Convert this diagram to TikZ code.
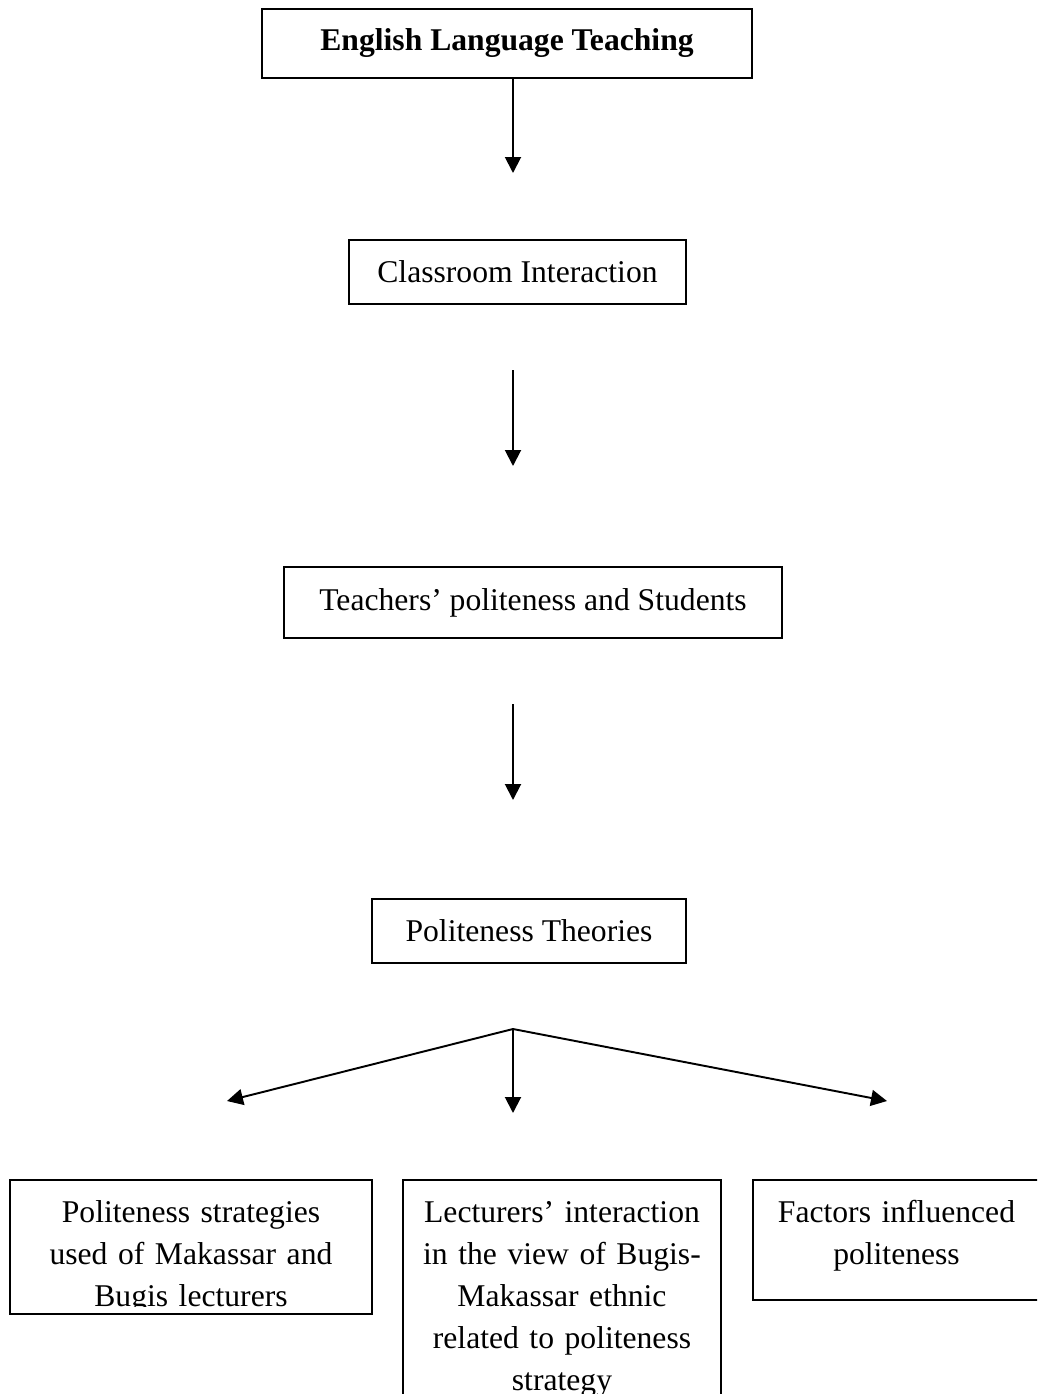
\documentclass[tikz,border=0pt]{standalone}
\usepackage{fontspec}
\setmainfont{Liberation Serif}
\usetikzlibrary{arrows.meta}

\begin{document}
\begin{tikzpicture}[
    box/.style={draw,line width=0.6pt,inner sep=0pt,font=\fontsize{18}{23.9}\selectfont},
    txt/.style={align=center,inner sep=0pt,anchor=base,font=\fontsize{18}{23.9}\selectfont},
    arr/.style={line width=1.1pt,-{Triangle[length=3.2mm,width=3.2mm]}}]
      \useasboundingbox (0,0) rectangle (20.74,-27.88);
      \clip (0,0) rectangle (20.74,-27.88);
      % chain of single boxes
      \node[box,minimum width=9.8cm,minimum height=1.38cm] (elt) at (10.14,-0.87) {\textbf{English Language Teaching}};
      \node[box,minimum width=6.74cm,minimum height=1.28cm] (ci) at (10.35,-5.44) {Classroom Interaction};
      \node[box,minimum width=9.96cm,minimum height=1.42cm] (tps) at (10.66,-12.05) {Teachers’ politeness and Students};
      \node[box,minimum width=6.28cm,minimum height=1.28cm] (pt) at (10.58,-18.62) {Politeness Theories};
      % bottom row
      \node[box,minimum width=7.24cm,minimum height=2.68cm] (ps) at (3.82,-24.94) {};
      \node[box,minimum width=6.36cm,minimum height=4.8cm] (li) at (11.24,-26.0) {};
      \node[box,minimum width=5.74cm,minimum height=2.4cm] (fi) at (17.93,-24.8) {};
      \begin{scope}
        \clip (ps.north west) rectangle ([yshift=0.16cm]ps.south east);
        \node[txt,text width=6.6cm] (ps-t) at (3.82,-24.44) {Politeness strategies\\used of Makassar and\\Bugis lecturers};
      \end{scope}
      \node[txt,text width=6cm] (li-t) at (11.24,-24.44) {Lecturers’ interaction\\in the view of Bugis-\\Makassar ethnic\\related to politeness\\strategy};
      \node[txt,text width=5.4cm] (fi-t) at (17.93,-24.44) {Factors influenced\\politeness};
      % arrows
      \coordinate (e1) at (10.26,-3.46);
      \coordinate (s2) at (10.26,-7.40);
      \coordinate (e2) at (10.26,-9.32);
      \coordinate (s3) at (10.26,-14.08);
      \coordinate (e3) at (10.26,-16.00);
      \coordinate (fork) at (10.26,-20.58);
      \coordinate (tl) at (4.54,-22.02);
      \coordinate (tm) at (10.26,-22.26);
      \coordinate (tr) at (17.74,-22.02);
      \draw[arr] (elt.south -| e1) -- (e1);
      \draw[arr] (s2) -- (e2);
      \draw[arr] (s3) -- (e3);
      \foreach \t in {tl,tm,tr} \draw[arr] (fork) -- (\t);
    \end{tikzpicture}
\end{document}
